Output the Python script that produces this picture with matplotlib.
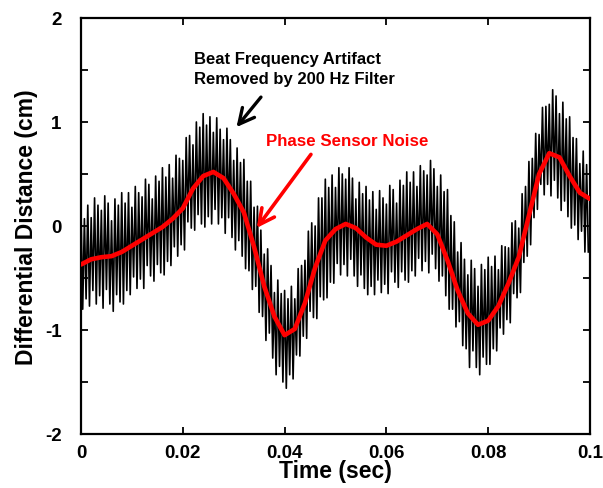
import numpy as np
import matplotlib
matplotlib.use("Agg")
import matplotlib.pyplot as plt
from matplotlib.ticker import MultipleLocator

# Filtered (red) curve, sampled every 0.002 s
red_t = [0.000, 0.002, 0.004, 0.006, 0.008, 0.010, 0.012, 0.014, 0.016, 0.018,
         0.020, 0.022, 0.024, 0.026, 0.028, 0.030, 0.032, 0.034, 0.036, 0.038,
         0.040, 0.042, 0.044, 0.046, 0.048, 0.050, 0.052, 0.054, 0.056, 0.058,
         0.060, 0.062, 0.064, 0.066, 0.068, 0.070, 0.072, 0.074, 0.076, 0.078,
         0.080, 0.082, 0.084, 0.086, 0.088, 0.090, 0.092, 0.094, 0.096, 0.098, 0.100]
red_y = [-0.37, -0.32, -0.30, -0.29, -0.25, -0.19, -0.13, -0.07, -0.01, 0.07,
         0.17, 0.36, 0.48, 0.52, 0.46, 0.31, 0.13, -0.20, -0.58, -0.87,
         -1.05, -0.99, -0.74, -0.40, -0.14, -0.03, 0.02, -0.02, -0.11, -0.18,
         -0.19, -0.15, -0.09, -0.03, 0.02, -0.08, -0.33, -0.62, -0.84, -0.95,
         -0.91, -0.77, -0.55, -0.30, 0.10, 0.50, 0.70, 0.66, 0.48, 0.32, 0.26]

# Raw (black) trace: successive maxima and minima of the beat oscillation
raw_peaks = [0.15, 0.07, 0.20, 0.08, 0.27, 0.20, 0.15, 0.29, 0.22, 0.05, 0.26, 0.20,
             0.32, 0.22, 0.32, 0.18, 0.38, 0.32, 0.28, 0.45, 0.40, 0.26, 0.48, 0.43,
             0.56, 0.47, 0.59, 0.46, 0.68, 0.65, 0.63, 0.85, 0.87, 0.78, 1.00, 0.95,
             1.08, 0.97, 1.05, 0.90, 1.04, 0.93, 0.83, 0.94, 0.83, 0.63, 0.75, 0.61,
             0.64, 0.43, 0.43, 0.18, 0.19, -0.04, -0.27, -0.22, -0.38, -0.64, -0.52, -0.65,
             -0.62, -0.70, -0.58, -0.70, -0.41, -0.38, -0.33, -0.05, 0.03, 0.00, 0.27, 0.27,
             0.45, 0.37, 0.49, 0.37, 0.56, 0.50, 0.45, 0.56, 0.46, 0.26, 0.42, 0.31,
             0.38, 0.25, 0.33, 0.16, 0.34, 0.27, 0.21, 0.39, 0.35, 0.22, 0.44, 0.39,
             0.52, 0.42, 0.52, 0.38, 0.58, 0.53, 0.49, 0.63, 0.55, 0.38, 0.49, 0.33,
             0.35, 0.10, 0.04, -0.25, -0.16, -0.32, -0.47, -0.33, -0.41, -0.58, -0.37, -0.42,
             -0.30, -0.39, -0.29, -0.42, -0.19, -0.20, -0.21, 0.03, 0.05, -0.02, 0.31, 0.38,
             0.62, 0.65, 0.89, 0.88, 1.14, 1.15, 1.17, 1.31, 1.25, 1.08, 1.19, 1.03,
             1.05, 0.85, 0.84, 0.60, 0.72, 0.59]
raw_troughs = [-0.80, -0.70, -0.77, -0.62, -0.75, -0.67, -0.79, -0.61, -0.75, -0.82, -0.66, -0.73,
               -0.75, -0.62, -0.66, -0.49, -0.60, -0.51, -0.60, -0.38, -0.48, -0.53, -0.37, -0.45,
               -0.47, -0.34, -0.38, -0.20, -0.29, -0.18, -0.23, 0.04, -0.02, -0.04, 0.11, 0.02,
               -0.01, 0.09, 0.02, 0.16, 0.02, 0.08, -0.07, 0.08, -0.11, -0.23, -0.14, -0.29,
               -0.41, -0.43, -0.61, -0.58, -0.83, -0.87, -1.10, -1.03, -1.27, -1.43, -1.35, -1.50,
               -1.56, -1.43, -1.47, -1.24, -1.25, -1.06, -1.08, -0.82, -0.88, -0.89, -0.68, -0.71,
               -0.69, -0.54, -0.55, -0.36, -0.47, -0.37, -0.48, -0.32, -0.48, -0.58, -0.47, -0.60,
               -0.66, -0.58, -0.66, -0.52, -0.64, -0.56, -0.65, -0.44, -0.54, -0.59, -0.44, -0.52,
               -0.54, -0.43, -0.48, -0.31, -0.43, -0.34, -0.45, -0.27, -0.41, -0.53, -0.48, -0.67,
               -0.80, -0.80, -0.97, -0.92, -1.15, -1.18, -1.36, -1.20, -1.36, -1.43, -1.26, -1.33,
               -1.33, -1.18, -1.20, -0.98, -1.04, -0.90, -0.93, -0.65, -0.69, -0.64, -0.35, -0.29,
               -0.18, 0.08, 0.16, 0.40, 0.30, 0.40, 0.29, 0.44, 0.27, 0.15, 0.24, 0.09,
               -0.02, 0.01, -0.13, -0.05, -0.25, -0.25]
raw_period = 0.1 / len(raw_peaks)

x_ticks = [0, 0.02, 0.04, 0.06, 0.08, 0.1]
x_tick_labels = ["0", "0.02", "0.04", "0.06", "0.08", "0.1"]
y_ticks = [-2, -1, 0, 1, 2]
y_tick_labels = ["-2", "-1", "0", "1", "2"]

# interleave maxima and minima into one trace
n = len(raw_peaks)
raw_t = np.empty(2 * n)
raw_y = np.empty(2 * n)
raw_t[0::2] = np.arange(n) * raw_period
raw_t[1::2] = (np.arange(n) + 0.5) * raw_period
raw_y[0::2] = raw_peaks
raw_y[1::2] = raw_troughs

plt.rcParams['font.family'] = ['Liberation Sans', 'DejaVu Sans']
plt.rcParams['font.weight'] = 'bold'

fig = plt.figure(figsize=(6.03, 4.89), dpi=100)
ax = fig.add_axes([81 / 603, 1 - 435 / 489, (590 - 81) / 603, (435 - 19) / 489])

ax.plot(raw_t, raw_y, color='black', lw=1.2, zorder=2)
ax.plot(red_t, red_y, color='#ff0000', lw=3.3, zorder=3, solid_capstyle='round')

ax.set_xlim(0, 0.1)
ax.set_ylim(-2, 2)
ax.set_xticks(x_ticks)
ax.set_xticklabels(x_tick_labels)
ax.set_yticks(y_ticks)
ax.set_yticklabels(y_tick_labels)
ax.yaxis.set_minor_locator(MultipleLocator(0.5))

ax.tick_params(which='both', direction='in', top=True, right=True,
               length=5, width=1.3, labelsize=13.5)
ax.tick_params(axis='x', pad=7)
ax.tick_params(axis='y', pad=14)
for lab in ax.get_xticklabels() + ax.get_yticklabels():
    lab.set_fontweight('bold')
for s in ax.spines.values():
    s.set_linewidth(1.6)

ax.set_xlabel('Time (sec)', fontsize=16.5, fontweight='bold', labelpad=-1)
ax.set_ylabel('Differential Distance (cm)', fontsize=16.5, fontweight='bold', labelpad=5)

ax.text(0.0222, 1.567, 'Beat Frequency Artifact', fontsize=12, fontweight='bold',
        color='black', va='baseline', ha='left')
ax.text(0.0222, 1.375, 'Removed by 200 Hz Filter', fontsize=12, fontweight='bold',
        color='black', va='baseline', ha='left')
ax.annotate('', xy=(0.0302, 0.93), xytext=(0.0357, 1.26),
            arrowprops=dict(arrowstyle='->,head_length=0.55,head_width=0.28',
                            color='black', lw=2.4, mutation_scale=20))

ax.text(0.0363, 0.779, 'Phase Sensor Noise', fontsize=12.2, fontweight='bold',
        color='#ff0000', va='baseline', ha='left')
ax.annotate('', xy=(0.0342, -0.04), xytext=(0.0455, 0.71),
            arrowprops=dict(arrowstyle='->,head_length=0.55,head_width=0.28',
                            color='#ff0000', lw=2.6, mutation_scale=20))

fig.savefig('out.png', dpi=100)
